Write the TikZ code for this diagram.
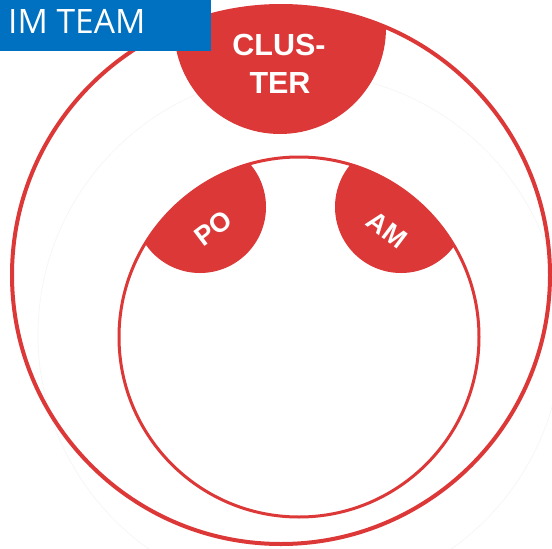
\documentclass[tikz,border=0pt]{standalone}
\usepackage{fontspec}
\setmainfont{Liberation Sans}
\newfontfamily\osans{Open Sans}
\definecolor{imred}{RGB}{220,56,56}
\definecolor{imblue}{RGB}{0,112,192}
\begin{document}
\begin{tikzpicture}[x=1pt,y=-1pt,
  ring/.style={draw=imred},
  blob/.style={fill=imred},
  biglbl/.style={text=white,font=\bfseries\fontsize{30.5}{30.5}\selectfont,inner sep=0pt,anchor=base},
  smalllbl/.style={text=white,font=\bfseries\fontsize{27}{27}\selectfont,inner sep=0pt}]
\useasboundingbox (0,0) rectangle (552,549);
\fill[white] (0,0) rectangle (552,549);
% faint ghost circle
\draw[black!4, line width=0.6pt] (300,335) circle[radius=262pt];
% cluster blob
\begin{scope}
  \clip (281,275) circle[radius=269pt];
  \fill[blob] (280,28) circle[radius=106pt];
\end{scope}
\draw[ring, line width=4pt] (281,275) circle[radius=269pt];
% PO / AM blobs
\begin{scope}
  \clip (299,337) circle[radius=180pt];
  \fill[blob] (200,207) circle[radius=66pt];
  \fill[blob] (401,207) circle[radius=66pt];
\end{scope}
\draw[ring, line width=3pt] (299,337) circle[radius=180pt];
% labels
\node[biglbl] (clus) at (279,55) {CLUS-};
\node[biglbl] (ter) at (280,93) {TER};
\node[smalllbl, rotate=37] (po) at (213,228) {PO};
\node[smalllbl, rotate=-37] (am) at (387,230) {AM};
% title box
\fill[imblue] (0,0) rectangle (211,51);
\node[anchor=base west, inner sep=0pt, text=white, font=\osans\fontsize{33.6}{33.6}\selectfont] (title) at (8,33) {IM TEAM};
\end{tikzpicture}
\end{document}
